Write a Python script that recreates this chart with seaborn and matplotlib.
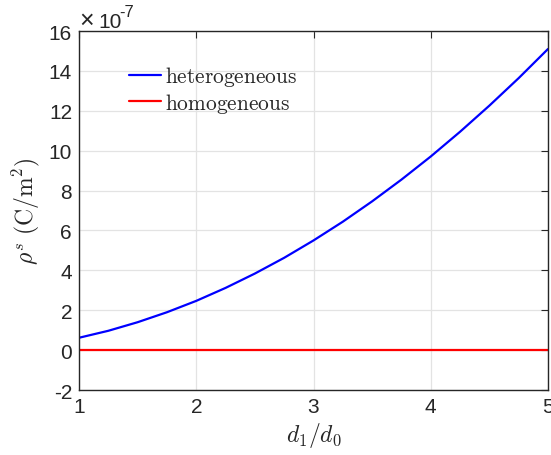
import numpy as np
import pandas as pd
import matplotlib
matplotlib.use("Agg")
import matplotlib.pyplot as plt
import seaborn as sns
from matplotlib.lines import Line2D

ratio = [1.0, 1.25, 1.5, 1.75, 2.0, 2.25, 2.5, 2.75, 3.0, 3.25, 3.5, 3.75, 4.0, 4.25, 4.5, 4.75, 5.0]
hetero = [0.62, 0.97, 1.40, 1.90, 2.47, 3.12, 3.84, 4.63, 5.50, 6.44, 7.46, 8.55, 9.71, 10.95, 12.26, 13.64, 15.10]
homo = [0.0] * len(ratio)
series_names = ["heterogeneous", "homogeneous"]
series_colors = ["#0000ff", "#ff0000"]
yticks = [-2, 0, 2, 4, 6, 8, 10, 12, 14, 16]
xticks = [1, 2, 3, 4, 5]

df = pd.DataFrame({
    "x": ratio * 2,
    "y": hetero + homo,
    "series": [series_names[0]] * len(ratio) + [series_names[1]] * len(ratio),
})

sns.set_style("white")
plt.rcParams["font.family"] = ["Liberation Sans", "DejaVu Sans"]
plt.rcParams["mathtext.fontset"] = "cm"

fig = plt.figure(figsize=(5.51, 4.56), dpi=100)
ax = fig.add_axes([0.1434, 0.1425, 0.8512, 0.7873])

sns.lineplot(data=df, x="x", y="y", hue="series", hue_order=series_names,
             palette=series_colors, linewidth=1.6, ax=ax, legend=False)

ax.set_xlim(1, 5)
ax.set_ylim(-2, 16)
ax.set_xticks(xticks)
ax.set_yticks(yticks)
ax.set_xticklabels([str(t) for t in xticks])
ax.set_yticklabels([str(t) for t in yticks])
ax.grid(True, color="#e3e3e3", linewidth=0.9)
ax.set_axisbelow(True)
ax.tick_params(direction="in", length=5, width=0.8, colors="#262626",
               labelsize=15, top=True, right=True, pad=5)
for s in ax.spines.values():
    s.set_edgecolor("#262626")
    s.set_linewidth(1.0)
    s.set_visible(True)

ax.set_xlabel(r"$d_1/d_0$", fontsize=17, color="#262626", labelpad=3)
ax.set_ylabel(r"$\rho^s\ (\mathrm{C/m^2})$", fontsize=17, color="#262626", labelpad=5)

ax.text(0.0, 1.012, "×", transform=ax.transAxes, fontsize=18, color="#262626",
        ha="left", va="baseline")
ax.text(0.0405, 1.012, "10", transform=ax.transAxes, fontsize=15, color="#262626",
        ha="left", va="baseline")
ax.text(0.085, 1.042, "-7", transform=ax.transAxes, fontsize=12, color="#262626",
        ha="left", va="baseline")

handles = [Line2D([], [], color=c, linewidth=1.6) for c in series_colors]
ax.legend(handles, [r"$\mathrm{heterogeneous}$", r"$\mathrm{homogeneous}$"],
          loc="upper left", bbox_to_anchor=(0.1066, 0.907), frameon=False,
          borderaxespad=0, borderpad=0,
          fontsize=15.4, handlelength=1.5, handletextpad=0.2, labelspacing=0.1)

fig.savefig("out.png", dpi=100)
